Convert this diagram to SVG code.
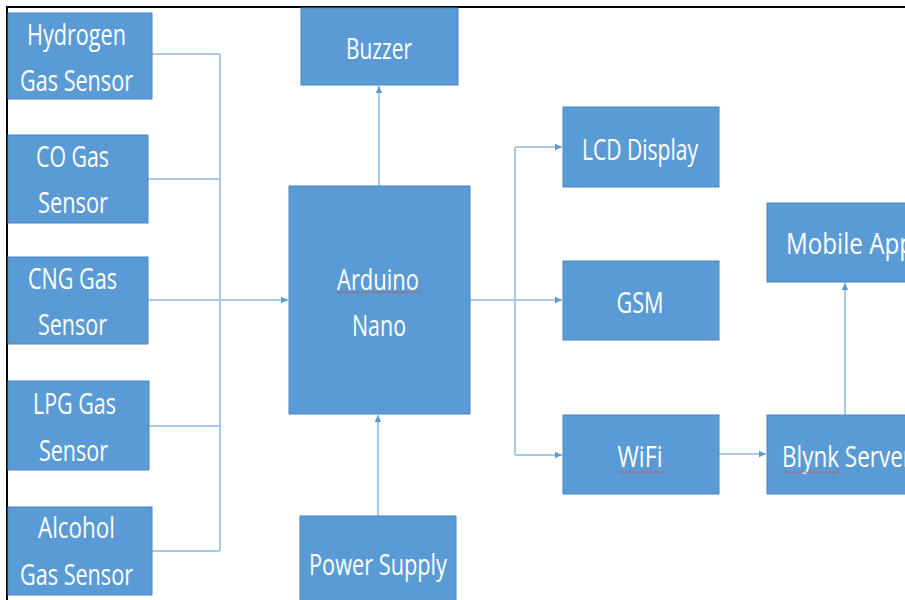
<svg xmlns="http://www.w3.org/2000/svg" width="905" height="600" viewBox="0 0 905 600">
<defs>
<style>
.box{fill:#5B9BD5;stroke:#4A86C0;stroke-width:1}
.lbl{fill:#fff;font-family:"Open Sans","Liberation Sans",sans-serif;font-size:30px;text-anchor:middle}
.lbs{fill:#fff;font-family:"Open Sans","Liberation Sans",sans-serif;font-size:30px;text-anchor:start}
.con{fill:none;stroke:#A9CBEA;stroke-width:2.2}
</style>
<marker id="arr" markerWidth="8" markerHeight="8" refX="7" refY="4" orient="auto" markerUnits="userSpaceOnUse">
<path d="M0,0.8 L7,4 L0,7.2 z" fill="#5B9BD5"/>
</marker>
<pattern id="squig" width="4" height="3" patternUnits="userSpaceOnUse">
<path d="M0,2.5 L2,0.5 L4,2.5" fill="none" stroke="#C0504D" stroke-width="0.9"/>
</pattern>
</defs>
<rect width="905" height="600" fill="#fff"/>
<path d="M7,600 V7 H905" fill="none" stroke="#000" stroke-width="2"/>

<g id="connectors">
<path class="con" d="M152,54 H220 M148,179 H220 M149,426 H220 M152,551 H220 M220,54 V551"/>
<path class="con" d="M148,300 H288" marker-end="url(#arr)"/>
<path class="con" d="M379,186 V86" marker-end="url(#arr)"/>
<path class="con" d="M378,516 V415" marker-end="url(#arr)"/>
<path class="con" d="M470,300 H515 M515,147 V455"/>
<path class="con" d="M515,147 H562" marker-end="url(#arr)"/>
<path class="con" d="M515,300 H562" marker-end="url(#arr)"/>
<path class="con" d="M515,455 H562" marker-end="url(#arr)"/>
<path class="con" d="M719,454 H766" marker-end="url(#arr)"/>
<path class="con" d="M845,415 V283" marker-end="url(#arr)"/>
</g>

<g id="hydrogen">
<rect class="box" x="8" y="13" width="144" height="86"/>
<text class="lbl" x="76.5" y="45" textLength="99" lengthAdjust="spacingAndGlyphs">Hydrogen</text>
<text class="lbl" x="76.5" y="91" textLength="113" lengthAdjust="spacingAndGlyphs">Gas Sensor</text>
</g>
<g id="co">
<rect class="box" x="8" y="135" width="140" height="88"/>
<text class="lbl" x="72.5" y="167" textLength="73" lengthAdjust="spacingAndGlyphs">CO Gas</text>
<text class="lbl" x="73" y="213" textLength="70" lengthAdjust="spacingAndGlyphs">Sensor</text>
</g>
<g id="cng">
<rect class="box" x="8" y="257" width="140" height="87"/>
<text class="lbl" x="72.5" y="289" textLength="89" lengthAdjust="spacingAndGlyphs">CNG Gas</text>
<text class="lbl" x="72.5" y="335" textLength="69" lengthAdjust="spacingAndGlyphs">Sensor</text>
</g>
<g id="lpg">
<rect class="box" x="8" y="381" width="141" height="89"/>
<text class="lbl" x="74.5" y="414" textLength="83" lengthAdjust="spacingAndGlyphs">LPG Gas</text>
<text class="lbl" x="73.5" y="461" textLength="69" lengthAdjust="spacingAndGlyphs">Sensor</text>
</g>
<g id="alcohol">
<rect class="box" x="8" y="507" width="144" height="88"/>
<text class="lbl" x="76.5" y="538" textLength="77" lengthAdjust="spacingAndGlyphs">Alcohol</text>
<text class="lbl" x="76.5" y="585" textLength="113" lengthAdjust="spacingAndGlyphs">Gas Sensor</text>
</g>
<g id="buzzer">
<rect class="box" x="301" y="8" width="157" height="77"/>
<text class="lbl" x="379" y="59" textLength="66" lengthAdjust="spacingAndGlyphs">Buzzer</text>
</g>
<g id="arduino">
<rect class="box" x="289" y="186" width="181" height="228"/>
<text class="lbl" x="378" y="290" textLength="82" lengthAdjust="spacingAndGlyphs">Arduino</text>
<rect x="337" y="291" width="85" height="3" fill="url(#squig)"/>
<text class="lbl" x="379" y="336" textLength="54" lengthAdjust="spacingAndGlyphs">Nano</text>
</g>
<g id="power">
<rect class="box" x="300" y="516" width="156" height="90"/>
<text class="lbl" x="378" y="575" textLength="138" lengthAdjust="spacingAndGlyphs">Power Supply</text>
</g>
<g id="lcd">
<rect class="box" x="563" y="107" width="156" height="80"/>
<text class="lbl" x="640" y="160" textLength="116" lengthAdjust="spacingAndGlyphs">LCD Display</text>
</g>
<g id="gsm">
<rect class="box" x="563" y="261" width="156" height="79"/>
<text class="lbl" x="640" y="313" textLength="47" lengthAdjust="spacingAndGlyphs">GSM</text>
</g>
<g id="wifi">
<rect class="box" x="563" y="415" width="156" height="79"/>
<text class="lbl" x="640" y="467" textLength="45" lengthAdjust="spacingAndGlyphs">WiFi</text>
<rect x="618" y="471" width="46" height="3" fill="url(#squig)"/>
</g>
<g id="mobile">
<rect class="box" x="767" y="203" width="150" height="79"/>
<text class="lbs" x="786" y="254" textLength="128" lengthAdjust="spacingAndGlyphs">Mobile App</text>
</g>
<g id="blynk">
<rect class="box" x="767" y="415" width="150" height="79"/>
<text class="lbs" x="782" y="467" textLength="130" lengthAdjust="spacingAndGlyphs">Blynk Server</text>
<rect x="782" y="471" width="57" height="3" fill="url(#squig)"/>
</g>
</svg>
